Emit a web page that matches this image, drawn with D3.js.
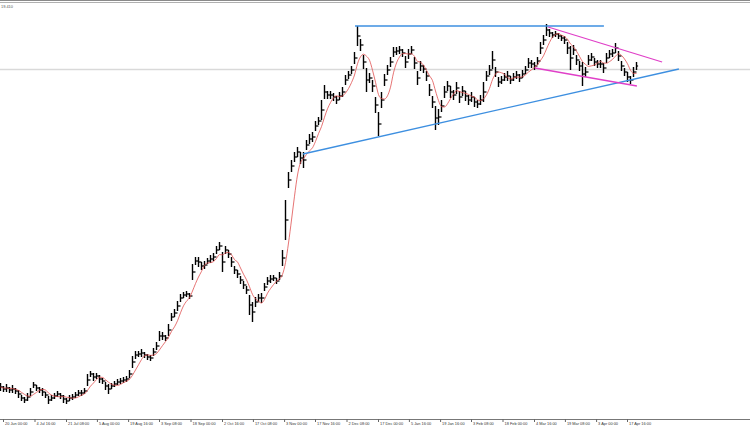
<!DOCTYPE html>
<html><head><meta charset="utf-8">
<script src="https://cdn.jsdelivr.net/npm/d3@7"></script>
<style>html,body{margin:0;padding:0;background:#fff;} svg{display:block;}</style>
</head><body>
<svg id="chart" width="750" height="430"></svg>
<script>
// ---- data (bar index -> high / low price) ----
const high = [
1627,1624,1626,1623,1625,1622,1620,1615,1613,1617,
1622,1628,1625,1623,1622,1618,1614,1615,1617,1619,
1617,1615,1612,1615,1616,1618,1620,1620,1622,1636,
1639,1637,1637,1635,1632,1628,1626,1627,1629,1631,
1632,1633,1634,1640,1654,1659,1659,1661,1658,1656,
1655,1662,1668,1679,1678,1675,1686,1697,1701,1709,
1716,1718,1719,1717,1746,1753,1753,1748,1749,1752,
1755,1757,1764,1768,1758,1764,1760,1753,1744,1740,
1734,1729,1724,1715,1708,1713,1716,1717,1727,1733,
1735,1735,1732,1738,1760,1810,1838,1850,1858,1863,
1858,1858,1870,1876,1878,1889,1893,1910,1925,1919,
1919,1917,1914,1918,1923,1935,1939,1944,1958,1984,
1971,1955,1942,1937,1930,1913,1898,1918,1936,1945,
1953,1963,1963,1964,1961,1954,1961,1964,1953,1939,
1949,1945,1939,1926,1914,1904,1901,1910,1924,1929,
1924,1920,1928,1919,1924,1919,1915,1918,1913,1910,
1915,1928,1939,1945,1959,1943,1933,1934,1937,1939,
1934,1937,1939,1936,1940,1944,1952,1950,1948,1953,
1968,1975,1986,1981,1978,1979,1977,1975,1974,1968,
1964,1965,1955,1949,1948,1943,1955,1957,1952,1950,
1950,1947,1957,1960,1961,1967,1959,1949,1942,1938,
1934,1943,1948];
const low = [
1619,1618,1618,1617,1617,1616,1612,1609,1607,1609,
1614,1622,1619,1617,1614,1612,1606,1609,1611,1613,
1611,1607,1606,1609,1610,1612,1614,1614,1616,1624,
1633,1629,1631,1627,1626,1620,1616,1621,1623,1625,
1626,1627,1628,1632,1642,1651,1653,1653,1652,1650,
1649,1654,1660,1669,1670,1669,1674,1689,1693,1699,
1708,1712,1713,1711,1730,1745,1743,1740,1741,1746,
1747,1749,1756,1760,1738,1756,1752,1743,1736,1732,
1726,1721,1716,1695,1688,1703,1708,1707,1719,1725,
1727,1729,1726,1730,1744,1770,1822,1838,1848,1853,
1846,1842,1860,1866,1868,1879,1885,1890,1911,1911,
1911,1909,1906,1910,1913,1925,1931,1936,1946,1964,
1959,1941,1918,1927,1918,1897,1874,1902,1924,1935,
1943,1953,1955,1956,1953,1942,1951,1956,1941,1925,
1939,1937,1929,1914,1902,1880,1885,1898,1912,1919,
1912,1910,1916,1907,1914,1909,1905,1908,1903,1902,
1905,1908,1929,1935,1941,1933,1923,1926,1929,1929,
1926,1929,1931,1928,1932,1936,1942,1942,1940,1945,
1956,1965,1974,1973,1972,1973,1971,1969,1966,1956,
1940,1955,1945,1939,1924,1933,1945,1949,1944,1942,
1942,1937,1947,1952,1953,1957,1949,1939,1934,1928,
1926,1933,1940];

const tickBars = [1,11.5,22,32.3,42.7,53,63.5,74,84.3,94.7,105,115.5,126,136.3,146.7,157,167.5,178,188.3,198.7,209];
const tickLabels = ["20 Jun 00:00","4 Jul 16:00","21 Jul 08:00","5 Aug 00:00","19 Aug 16:00","3 Sep 08:00","18 Sep 00:00","2 Oct 16:00","17 Oct 08:00","3 Nov 00:00","17 Nov 16:00","2 Dec 08:00","17 Dec 00:00","5 Jan 16:00","19 Jan 16:00","3 Feb 08:00","18 Feb 00:00","4 Mar 16:00","19 Mar 08:00","3 Apr 00:00","17 Apr 16:00"];

const levelPrice = 1941;
const levelLabel = "19.410";

// trend lines: bar/price endpoints
const lineBar1  = [118.33, 101,   182.7, 178.3];
const linePrice1= [1984,   1856,  1983,  1942];
const lineBar2  = [201.3,  226.3, 220.7, 212.3];
const linePrice2= [1984,   1941,  1948,  1924];
const lineKind  = ["blue","blue","pink","pink"];

const maPeriod = 5;

// ---- drawing ----
const W = 750, H = 430, axisY = 419;
const svg = d3.select("#chart");
const x = d3.scaleLinear().domain([0, 250]).range([0, W]);
const y = d3.scaleLinear().domain([2010 - axisY, 2010]).range([axisY, 0]);
const colors = {blue:"#3d8fe0", pink:"#e040c8", ma:"#e05050", bar:"#000", level:"#d9d9d9"};

// frame
svg.append("line").attr("x1",0).attr("x2",W).attr("y1",0.5).attr("y2",0.5).attr("stroke","#8a8a8a");
svg.append("line").attr("x1",0).attr("x2",W).attr("y1",2.5).attr("y2",2.5).attr("stroke","#b0b0b0");

// level line
svg.append("line").attr("x1",0).attr("x2",W)
  .attr("y1",Math.round(y(levelPrice))+0.5).attr("y2",Math.round(y(levelPrice))+0.5)
  .attr("stroke",colors.level).attr("stroke-width",1.5);
svg.append("text").attr("x",1).attr("y",7.5).text(levelLabel)
  .attr("font-family","Liberation Sans, Arial, sans-serif").attr("font-size",3.9).attr("fill","#555");

const mid = high.map((h,i)=>(h+low[i])/2);

// bars
const g = svg.append("g");
high.forEach((h,i)=>{
  const cx = Math.round(x(i)) + 0.5;
  const o = i>0 ? mid[i-1] : mid[i];
  const c = mid[i];
  g.append("line").attr("x1",cx).attr("x2",cx).attr("y1",y(h)).attr("y2",y(low[i])).attr("stroke",colors.bar).attr("stroke-width",1.4);
  g.append("line").attr("x1",cx-1.6).attr("x2",cx).attr("y1",y(o)).attr("y2",y(o)).attr("stroke",colors.bar).attr("stroke-width",1.2);
  g.append("line").attr("x1",cx).attr("x2",cx+1.6).attr("y1",y(c)).attr("y2",y(c)).attr("stroke",colors.bar).attr("stroke-width",1.2);
});

// moving average
const ma = mid.map((v,i)=>{const s=Math.max(0,i-maPeriod+1); return d3.mean(mid.slice(s,i+1));});
svg.append("path").datum(ma)
  .attr("d", d3.line().x((d,i)=>x(i)+0.5).y(d=>y(d)).curve(d3.curveMonotoneX))
  .attr("fill","none").attr("stroke",colors.ma).attr("stroke-width",0.8);

// trend lines
lineBar1.forEach((b,i)=>{
  svg.append("line").attr("x1",x(b)).attr("y1",y(linePrice1[i]))
    .attr("x2",x(lineBar2[i])).attr("y2",y(linePrice2[i]))
    .attr("stroke",colors[lineKind[i]]).attr("stroke-width",1.3);
});

// axis
svg.append("line").attr("x1",0).attr("x2",W).attr("y1",axisY+0.5).attr("y2",axisY+0.5).attr("stroke","#777");
const ax = svg.append("g").attr("transform",`translate(0,${axisY})`)
  .call(d3.axisBottom(x).tickValues(tickBars).tickFormat((d,i)=>tickLabels[i]).tickSize(3).tickSizeOuter(0));
ax.select(".domain").remove();
ax.selectAll(".tick line").attr("stroke","#666");
ax.selectAll(".tick text").attr("text-anchor","start").attr("x",1.5).attr("y",3.2).attr("dy","0.71em")
  .attr("font-family","Liberation Sans, Arial, sans-serif").attr("font-size",3.9).attr("fill","#333");
</script>
</body></html>
